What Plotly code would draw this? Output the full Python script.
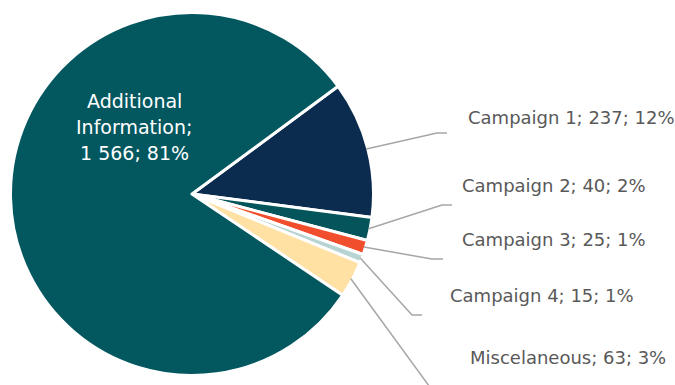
import math
import plotly.graph_objects as go

# ---- data ----
labels = ["Campaign 1", "Campaign 2", "Campaign 3", "Campaign 4", "Miscelaneous", "Additional Information"]
values = [237, 40, 25, 15, 63, 1566]
percents = [12, 2, 1, 1, 3, 81]
colors = ["#0B2B4F", "#03545B", "#F04E2D", "#B7D4D2", "#FFE1A3", "#03585F"]

W, H = 675, 385
CX, CY, R = 192, 194, 180          # pie centre / radius in px
ROTATION = 53.6

def px(x):
    return x / W

def py(y):
    return 1 - y / H

def fmt(v):
    return f"{v:,}".replace(",", " ")

RD = R + 1.5  # domain radius (outer white stroke eats half the line width)
fig = go.Figure(go.Pie(
    labels=labels,
    values=values,
    sort=False,
    direction="clockwise",
    rotation=ROTATION,
    marker=dict(colors=colors, line=dict(color="white", width=3)),
    textinfo="none",
    hoverinfo="label+value+percent",
    showlegend=False,
    domain=dict(x=[px(CX - RD), px(CX + RD)], y=[py(CY + RD), py(CY - RD)]),
))

# label layout: (elbow x, elbow y, end x, label left x, label centre y)
label_layout = {
    "Campaign 1": (437, 133, 447, 466, 117),
    "Campaign 2": (442, 205, 452, 460, 185),
    "Campaign 3": (432, 259, 443, 460, 239),
    "Campaign 4": (412, 315, 422, 448, 295),
    "Miscelaneous": (432, 390, 432, 468, 357),
}

total = sum(values)
ang = ROTATION
shapes = []
annotations = []
for lab, v, p in zip(labels, values, percents):
    span = 360 * v / total
    mid = math.radians(ang + span / 2)
    ang += span
    if lab in label_layout:
        ex, ey, endx, lx, ly = label_layout[lab]
        sx = CX + R * math.sin(mid)
        sy = CY - R * math.cos(mid)
        shapes.append(dict(
            type="path", xref="paper", yref="paper",
            path=f"M {px(sx)},{py(sy)} L {px(ex)},{py(ey)} L {px(endx)},{py(ey)}",
            line=dict(color="#A6A6A6", width=1.5),
        ))
        annotations.append(dict(
            x=px(lx), y=py(ly), xref="paper", yref="paper",
            xanchor="left", yanchor="middle", showarrow=False,
            text=f"{lab}; {fmt(v)}; {p}%",
            font=dict(family="DejaVu Sans", size=18, color="#595959"),
        ))
    else:
        words = lab.split(" ")
        lines = [words[0], words[1] + ";", f"{fmt(v)}; {p}%"]
        for i, t in enumerate(lines):
            annotations.append(dict(
                x=px(134), y=py(101 + 26 * i), xref="paper", yref="paper",
                xanchor="center", yanchor="middle", showarrow=False,
                text=t,
                font=dict(family="DejaVu Sans", size=19, color="white"),
            ))

fig.update_layout(
    width=W, height=H,
    margin=dict(l=0, r=0, t=0, b=0),
    paper_bgcolor="white",
    plot_bgcolor="white",
    shapes=shapes,
    annotations=annotations,
)

fig.write_html(
    "out.html",
    config={"displayModeBar": False},
    post_script="document.body.style.margin='0';document.body.style.overflow='hidden';",
)
